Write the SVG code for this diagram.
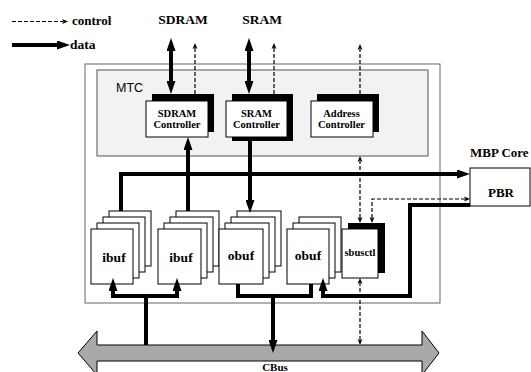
<svg xmlns="http://www.w3.org/2000/svg" width="531" height="372" viewBox="0 0 531 372">
<style>
.box{fill:#fff;stroke:#000;stroke-width:1}
.sh{fill:#000}
.thick{fill:none;stroke:#000;stroke-width:4;stroke-linejoin:miter}
.dash{fill:none;stroke:#000;stroke-width:1.2;stroke-dasharray:4 2}
.lbl{font-family:"Liberation Serif","Times New Roman",serif;font-weight:bold;fill:#000}
.c{text-anchor:middle}
</style>
<defs>
<marker id="ah" markerUnits="userSpaceOnUse" markerWidth="13" markerHeight="9" viewBox="0 0 13 9" refX="1" refY="4.5" orient="auto-start-reverse"><path d="M0,0L13,4.5L0,9z" fill="#000"/></marker>
<marker id="dh" markerUnits="userSpaceOnUse" markerWidth="6" markerHeight="6" viewBox="0 0 6 6" refX="1" refY="3" orient="auto-start-reverse"><path d="M0,0.5L6,3L0,5.5L1.5,3z" fill="#000"/></marker>
</defs>
<rect width="531" height="372" fill="#fff"/>

<g id="legend">
<path class="dash" d="M12,21.5H63" marker-end="url(#dh)"/>
<text class="lbl" x="72" y="25" font-size="13">control</text>
<path class="thick" d="M12,45H58" marker-end="url(#ah)"/>
<text class="lbl" x="70" y="49" font-size="13.5">data</text>
</g>

<g id="sdram-label"><text class="lbl c" x="183" y="24" font-size="13.5">SDRAM</text></g>
<g id="sram-label"><text class="lbl c" x="262" y="24" font-size="13.5">SRAM</text></g>

<g id="cbus">
<polygon points="78,353 97,331 97,345 422,345 422,331 439,353 422,375 422,361 97,361 97,375" fill="#a9a9a9" stroke="#000" stroke-width="1"/>
<text class="lbl c" x="275" y="371" font-size="11">CBus</text>
</g>

<g id="outer"><rect x="85" y="64" width="355" height="239" fill="none" stroke="#666" stroke-width="1"/></g>

<g id="mtc">
<rect x="97" y="70" width="331" height="86" fill="#f2f2f2" stroke="#555" stroke-width="1"/>
<text x="116" y="92" font-family="Liberation Sans,Arial,sans-serif" font-size="12.5">MTC</text>
</g>

<g id="sdram-controller">
<rect class="sh" x="152" y="94" width="62" height="38"/>
<rect class="box" x="146" y="101" width="62" height="36"/>
<text class="lbl c" x="177" y="117" font-size="10.5">SDRAM</text>
<text class="lbl c" x="177" y="128" font-size="10.5">Controller</text>
</g>

<g id="sram-controller">
<rect class="sh" x="232" y="94" width="61" height="47"/>
<rect class="box" x="226" y="101" width="61" height="36"/>
<text class="lbl c" x="256.5" y="117" font-size="10.5">SRAM</text>
<text class="lbl c" x="256.5" y="128" font-size="10.5">Controller</text>
</g>

<g id="address-controller">
<rect class="sh" x="317" y="94" width="62" height="38"/>
<rect class="box" x="311" y="101" width="62" height="36"/>
<text class="lbl c" x="341.5" y="117" font-size="10.5">Address</text>
<text class="lbl c" x="341.5" y="128" font-size="10.5">Controller</text>
</g>

<g id="ibuf1">
<rect class="box" x="109" y="211" width="42" height="55"/>
<rect class="box" x="103" y="217" width="42" height="55"/>
<rect class="box" x="97" y="223" width="42" height="55"/>
<rect class="box" x="91" y="229" width="42" height="55"/>
<text class="lbl c" x="114" y="262" font-size="13.5">ibuf</text>
</g>

<g id="ibuf2">
<rect class="box" x="176" y="211" width="43" height="55"/>
<rect class="box" x="170" y="217" width="43" height="55"/>
<rect class="box" x="164" y="223" width="43" height="55"/>
<rect class="box" x="158" y="229" width="43" height="55"/>
<text class="lbl c" x="181" y="262" font-size="13.5">ibuf</text>
</g>

<g id="obuf1">
<rect class="box" x="237" y="211" width="44" height="55"/>
<rect class="box" x="231" y="217" width="44" height="55"/>
<rect class="box" x="225" y="223" width="44" height="55"/>
<rect class="box" x="219" y="229" width="44" height="55"/>
<text class="lbl c" x="241" y="260" font-size="13.5">obuf</text>
</g>

<g id="obuf2">
<rect class="box" x="299" y="217" width="42" height="55"/>
<rect class="box" x="293" y="223" width="42" height="55"/>
<rect class="box" x="287" y="229" width="42" height="55"/>
<text class="lbl c" x="308" y="260" font-size="13.5">obuf</text>
</g>

<g id="sbusctl">
<rect class="sh" x="348" y="223" width="37" height="50"/>
<rect class="box" x="342" y="229" width="36" height="49"/>
<text class="lbl c" x="360" y="256" font-size="10.5">sbusctl</text>
</g>

<g id="pbr">
<text class="lbl" x="470" y="157" font-size="13">MBP Core</text>
<rect class="box" x="470" y="168" width="60" height="38"/>
<text class="lbl" x="488" y="197" font-size="13">PBR</text>
</g>

<g id="connectors">
<path class="thick" d="M171,82V50" marker-start="url(#ah)" marker-end="url(#ah)"/>
<path class="thick" d="M249,82V50" marker-start="url(#ah)" marker-end="url(#ah)"/>
<path class="dash" d="M195,94V48" marker-end="url(#dh)"/>
<path class="dash" d="M274,94V48" marker-end="url(#dh)"/>
<path class="dash" d="M360,94V49" marker-end="url(#dh)"/>
<path class="dash" d="M360,218V161" marker-start="url(#dh)" marker-end="url(#dh)"/>
<path class="dash" d="M372,218V199H465" marker-start="url(#dh)" marker-end="url(#dh)"/>
<path class="dash" d="M360,340V283" marker-start="url(#dh)" marker-end="url(#dh)"/>
<path class="thick" d="M121,211V174H458" marker-end="url(#ah)"/>
<path class="thick" d="M188,211V149" marker-end="url(#ah)"/>
<path class="thick" d="M250,137V201" marker-end="url(#ah)"/>
<path class="thick" d="M146,345V296"/>
<path class="thick" d="M113,290V296H177V290" marker-start="url(#ah)" marker-end="url(#ah)"/>
<path class="thick" d="M238,284V296H311V284"/>
<path class="thick" d="M273,296V341" marker-end="url(#ah)"/>
<path class="thick" d="M470,205H410V296H323V290" marker-end="url(#ah)"/>
</g>
</svg>
